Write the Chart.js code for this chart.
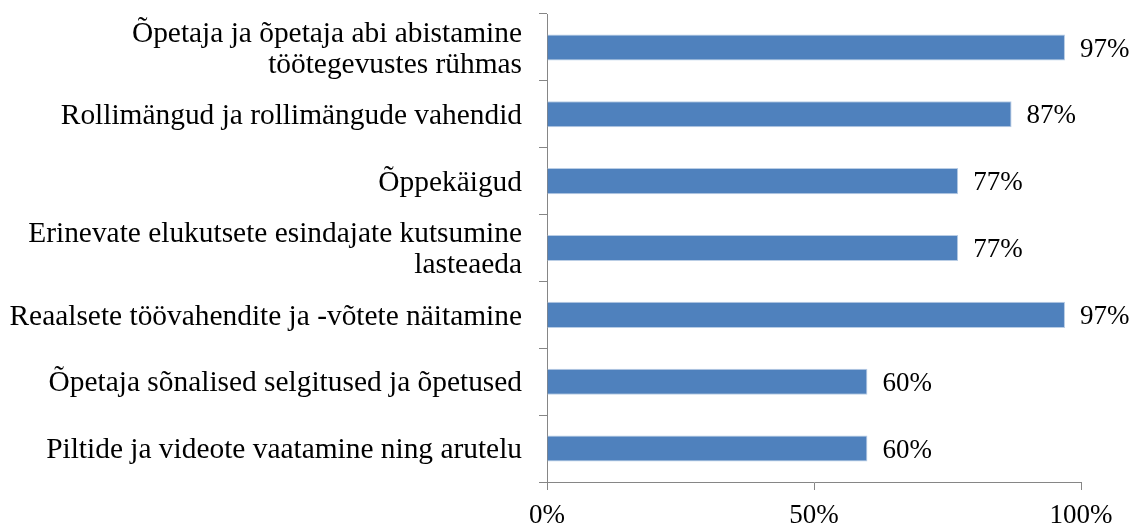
<!DOCTYPE html>
<html>
<head>
<meta charset="utf-8">
<script src="https://cdn.jsdelivr.net/npm/chart.js@4.4.1/dist/chart.umd.min.js"></script>
<style>
  html, body { margin: 0; padding: 0; background: #fff; }
  canvas { display: block; }
</style>
</head>
<body>
<canvas id="chart" width="1134" height="526"></canvas>
<script>
const categories = [
  ["Õpetaja ja õpetaja abi abistamine", "töötegevustes rühmas"],
  "Rollimängud ja rollimängude vahendid",
  "Õppekäigud",
  ["Erinevate elukutsete esindajate kutsumine", "lasteaeda"],
  "Reaalsete töövahendite ja -võtete näitamine",
  "Õpetaja sõnalised selgitused ja õpetused",
  "Piltide ja videote vaatamine ning arutelu"
];
const values = [97, 87, 77, 77, 97, 60, 60];
const xTicks = [0, 50, 100];

const FONT = "'Liberation Serif', 'Times New Roman', serif";
const AXIS = "#868686";

// value labels to the right of each bar
const barLabels = {
  id: "barLabels",
  afterDatasetsDraw(chart) {
    const ctx = chart.ctx;
    const meta = chart.getDatasetMeta(0);
    ctx.save();
    ctx.font = "27px " + FONT;
    ctx.fillStyle = "#000";
    ctx.textAlign = "left";
    ctx.textBaseline = "middle";
    meta.data.forEach((bar, i) => {
      ctx.fillText(values[i] + "%", bar.x + 15, bar.y + 2);
    });
    ctx.restore();
  }
};

new Chart(document.getElementById("chart"), {
  type: "bar",
  data: {
    labels: categories,
    datasets: [{
      data: values,
      backgroundColor: "#4F81BD",
      borderColor: "#B9CDE5",
      borderWidth: { top: 1, bottom: 1, left: 0, right: 1 },
      borderSkipped: false,
      categoryPercentage: 0.39,
      barPercentage: 1
    }]
  },
  options: {
    indexAxis: "y",
    responsive: false,
    animation: false,
    layout: { padding: { top: 14, right: 53, bottom: 0, left: 0 } },
    plugins: { legend: { display: false }, tooltip: { enabled: false } },
    scales: {
      x: {
        min: 0,
        max: 100,
        afterBuildTicks(scale) {
          scale.ticks = xTicks.map((v) => ({ value: v }));
        },
        afterFit(scale) {
          scale.height = 44;
          scale.paddingLeft = 0;
          scale.paddingRight = 0;
        },
        grid: { drawOnChartArea: false, tickLength: 8, color: AXIS },
        border: { color: AXIS, width: 1 },
        ticks: {
          color: "#000",
          font: { family: FONT, size: 27 },
          padding: 10,
          maxRotation: 0,
          callback: (v) => v + "%"
        }
      },
      y: {
        afterFit(scale) {
          scale.width = 547;
          scale.paddingTop = 0;
          scale.paddingBottom = 0;
        },
        grid: { drawOnChartArea: false, offset: true, tickLength: 8, color: AXIS },
        border: { color: AXIS, width: 1 },
        ticks: {
          color: "#000",
          font: { family: FONT, size: 29.4, lineHeight: 1.05 },
          padding: 17,
          labelOffset: 2
        }
      }
    }
  },
  plugins: [barLabels]
});
</script>
</body>
</html>
